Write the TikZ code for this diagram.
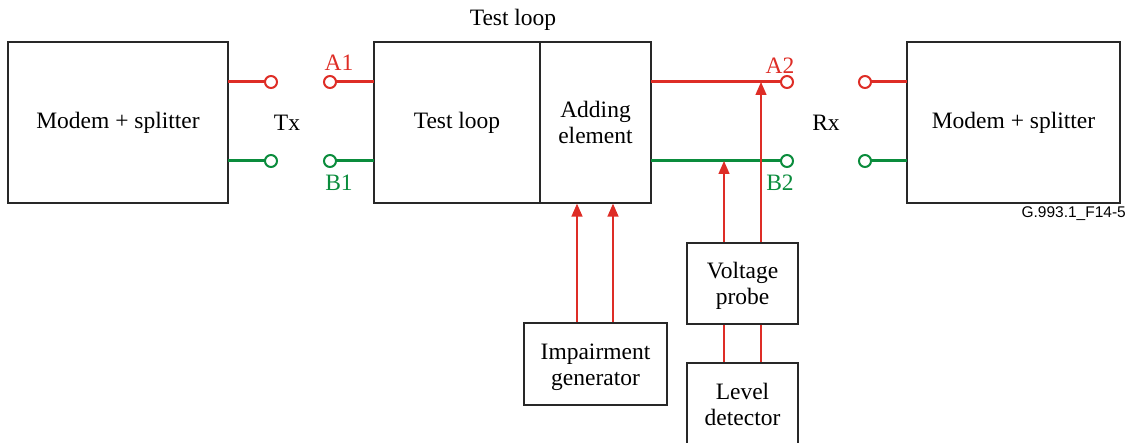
\documentclass[tikz,border=0pt]{standalone}
\usepackage{fontspec}
\setmainfont{Liberation Serif}
\newfontfamily\labfont{Liberation Sans}
\usetikzlibrary{arrows.meta}
\definecolor{wred}{RGB}{222,45,38}
\definecolor{wgreen}{RGB}{10,140,60}
\definecolor{bord}{RGB}{40,40,40}
\tikzset{
  box/.style={draw=bord,line width=1.3pt,inner sep=0pt,align=center,font=\fontsize{23.5}{26}\selectfont},
  term/.style={circle,draw=#1,fill=white,line width=2pt,minimum size=12pt,inner sep=0pt},
  redw/.style={wred,line width=3pt},
  greenw/.style={wgreen,line width=3pt},
  sig/.style={wred,line width=1.4pt},
  sigarr/.style={wred,line width=1.4pt,-{Triangle[width=11pt,length=13pt]}},
  txt/.style={font=\fontsize{23.5}{26}\selectfont,inner sep=0pt},
}
\begin{document}
\begin{tikzpicture}[x=1pt,y=-1pt]
\clip (0,0) rectangle (1128,443);
% boxes
\node[box,minimum width=220pt,minimum height=161pt] (mL) at (118,122.5) {Modem + splitter};
\node[box,minimum width=213pt,minimum height=161pt] (mR) at (1013.5,122.5) {Modem + splitter};
\node[box,minimum width=166pt,minimum height=161pt] (tl) at (457,122.5) {Test loop};
\node[box,minimum width=111pt,minimum height=161pt] (ae) at (595.5,122.5) {Adding\\element};
\node[txt] (title) at (513,20) {Test loop};
\node[box,minimum width=143pt,minimum height=82pt] (ig) at (595.5,364) {};
\node[txt,align=center] at (595.5,367) {Impairment\\generator};
\node[box,minimum width=111pt,minimum height=81pt] (vp) at (742.5,283.5) {};
\node[txt,align=center] at (742.5,286) {Voltage\\probe};
\node[box,minimum width=111pt,minimum height=82pt] (ld) at (742.5,404) {Level\\detector};
% terminals
\coordinate (mLa) at (228,82);
\coordinate (mLb) at (228,161);
\coordinate (tlA) at (374,82);
\coordinate (tlB) at (374,161);
\coordinate (aeA) at (651,82);
\coordinate (aeB) at (651,161);
\coordinate (mRa) at (907,82);
\coordinate (mRb) at (907,161);
\draw[redw] (mLa) -- (271,82) node[term=wred] (t1) {};
\draw[greenw] (mLb) -- (271,161) node[term=wgreen] (t2) {};
\draw[redw] (tlA) -- (330,82) node[term=wred] (A1) {};
\draw[greenw] (tlB) -- (330,161) node[term=wgreen] (B1) {};
\draw[redw] (aeA) -- (787,82) node[term=wred] (A2) {};
\draw[greenw] (aeB) -- (787,161) node[term=wgreen] (B2) {};
\draw[redw] (mRa) -- (865,82) node[term=wred] (t3) {};
\draw[greenw] (mRb) -- (865,161) node[term=wgreen] (t4) {};
\node[txt,text=wred] at (339,63) {A1};
\node[txt,text=wgreen] at (339,183) {B1};
\node[txt,text=wred] at (780,66) {A2};
\node[txt,text=wgreen] at (780,183) {B2};
\node[txt] at (287,123) {Tx};
\node[txt] at (826,123) {Rx};
% impairment arrows
\draw[sigarr] (ig.north -| 577,0) -- (ae.south -| 577,0);
\draw[sigarr] (ig.north -| 613,0) -- (ae.south -| 613,0);
% voltage probe arrows
\draw[sigarr] (vp.north -| 724,0) -- (724,161);
\draw[sigarr] (vp.north -| 761,0) -- (761,82);
\draw[sig] (vp.south -| 724,0) -- (ld.north -| 724,0);
\draw[sig] (vp.south -| 761,0) -- (ld.north -| 761,0);
\node[font=\labfont\fontsize{15.5}{18}\selectfont,anchor=east,inner sep=0pt] (fig) at (1126,214) {G.993.1\_F14-5};
\end{tikzpicture}
\end{document}
